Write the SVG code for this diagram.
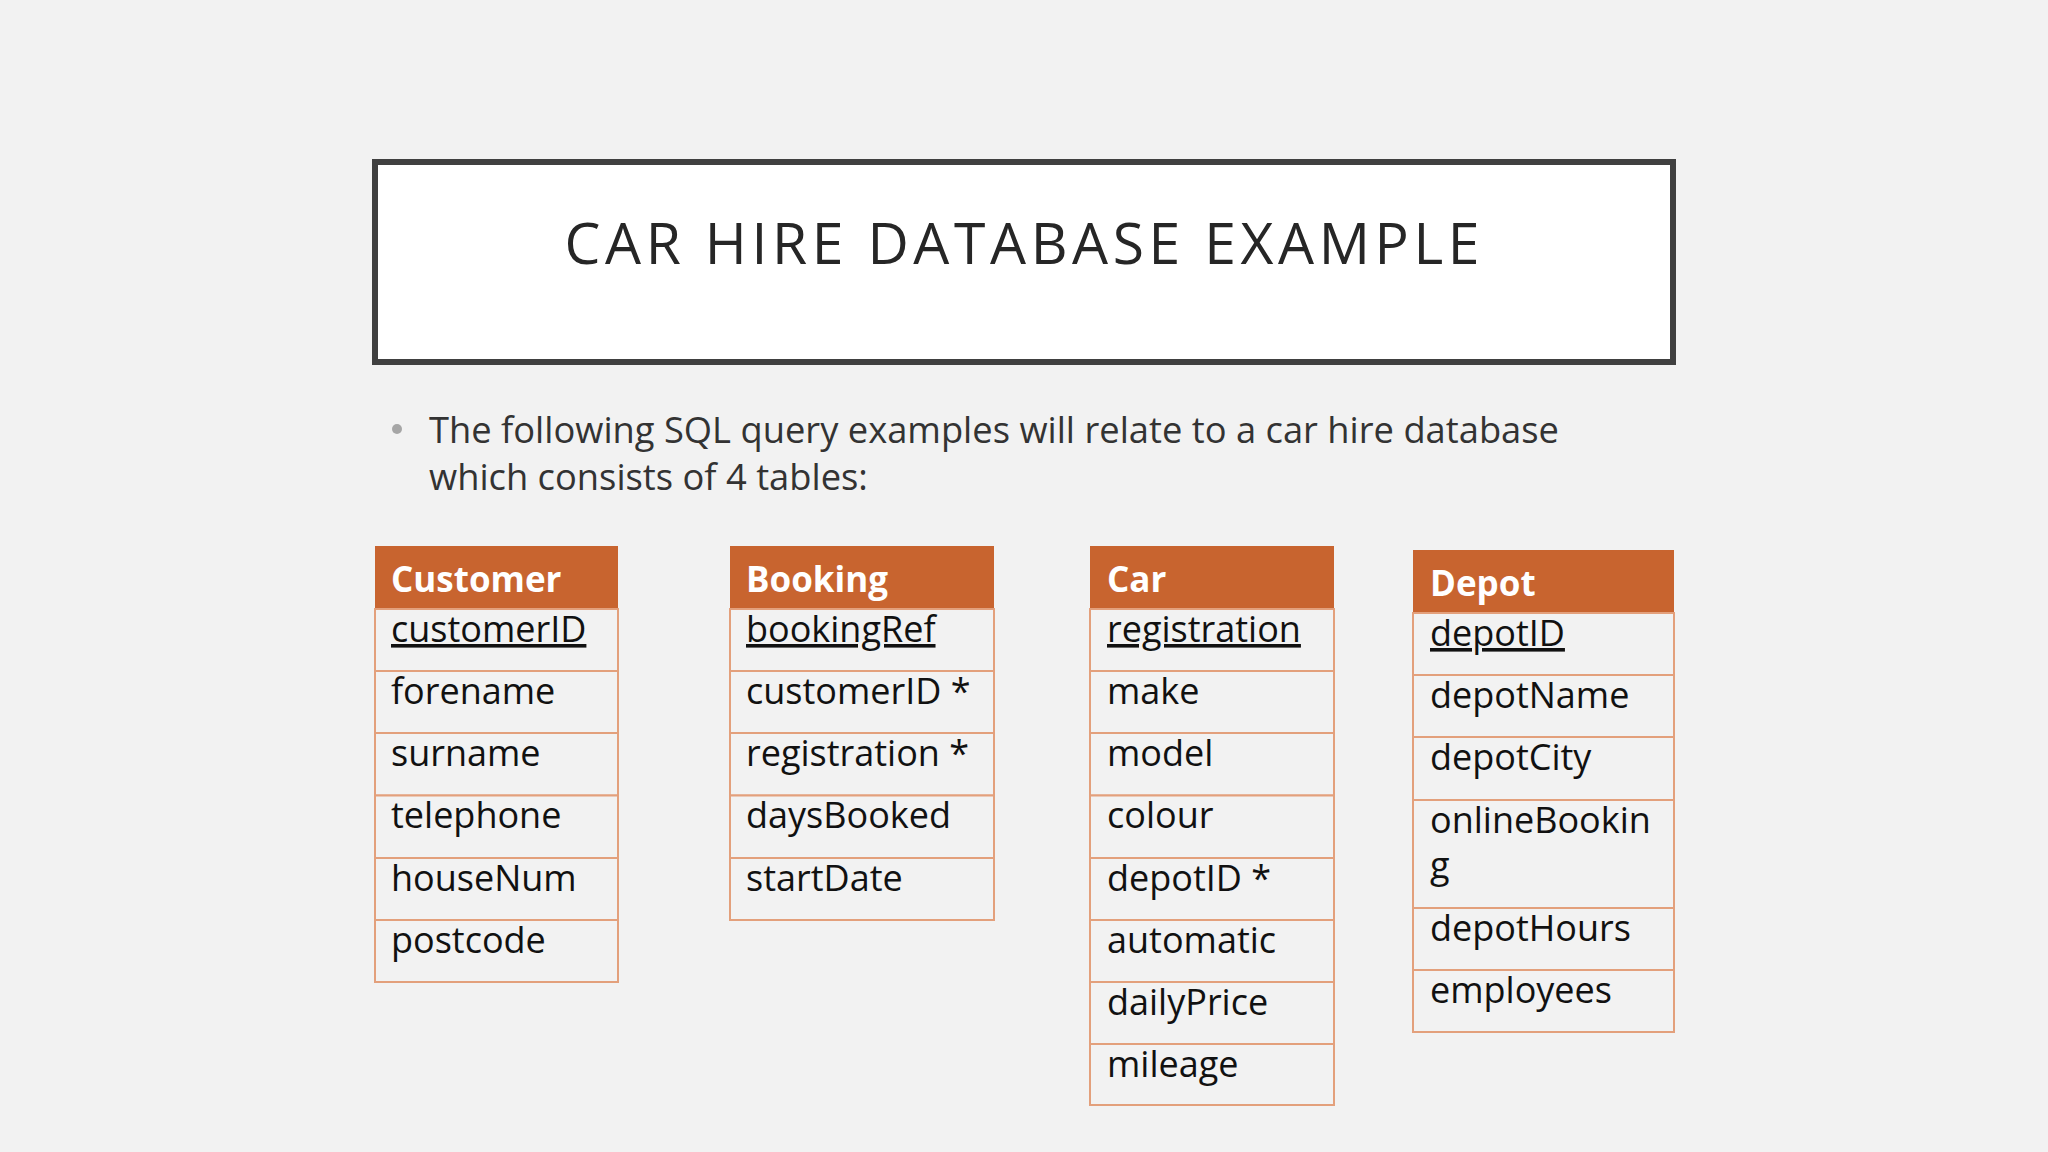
<svg xmlns="http://www.w3.org/2000/svg" width="2048" height="1152" viewBox="0 0 2048 1152">
  <style>
    .title { font-family: "Open Sans", "Noto Sans", "DejaVu Sans", sans-serif; font-size: 57px; font-weight: 400; fill: #262626; }
    .body { font-family: "Open Sans", "Noto Sans", "DejaVu Sans", sans-serif; font-size: 36.3px; fill: #333333; }
    .hdr { fill: #C8642F; }
    .row { fill: #F2F2F2; stroke: #E3A07C; stroke-width: 2; }
    .htext { font-family: "Open Sans", "Noto Sans", "DejaVu Sans", sans-serif; font-size: 35px; font-weight: bold; fill: #FFFFFF; }
    .rtext { font-family: "Open Sans", "Noto Sans", "DejaVu Sans", sans-serif; font-size: 36px; fill: #111111; }
    .pk { text-decoration: underline; }
  </style>
  <rect x="0" y="0" width="2048" height="1152" fill="#F2F2F2"/>

  <g id="title">
    <rect x="375" y="162" width="1298" height="200" fill="#FFFFFF" stroke="#404040" stroke-width="6"/>
    <text class="title" x="1022" y="264" text-anchor="middle" textLength="915" lengthAdjust="spacing">CAR HIRE DATABASE EXAMPLE</text>
  </g>

  <g id="bullet">
    <circle cx="397" cy="429" r="5" fill="#A6A6A6"/>
    <text class="body" x="429" y="443">The following SQL query examples will relate to a car hire database</text>
    <text class="body" x="429" y="490">which consists of 4 tables:</text>
  </g>

  <g id="customer">
    <rect class="hdr" x="375" y="546" width="243" height="63"/>
    <text class="htext" x="391" y="592">Customer</text>
    <rect class="row" x="375" y="609" width="243" height="62"/>
    <rect class="row" x="375" y="671" width="243" height="62"/>
    <rect class="row" x="375" y="733" width="243" height="62.5"/>
    <rect class="row" x="375" y="795.5" width="243" height="62.5"/>
    <rect class="row" x="375" y="858" width="243" height="62"/>
    <rect class="row" x="375" y="920" width="243" height="62"/>
    <text class="rtext pk" x="391" y="642">customerID</text>
    <text class="rtext" x="391" y="704">forename</text>
    <text class="rtext" x="391" y="766">surname</text>
    <text class="rtext" x="391" y="828">telephone</text>
    <text class="rtext" x="391" y="891">houseNum</text>
    <text class="rtext" x="391" y="953">postcode</text>
  </g>

  <g id="booking">
    <rect class="hdr" x="730" y="546" width="264" height="63"/>
    <text class="htext" x="746" y="592">Booking</text>
    <rect class="row" x="730" y="609" width="264" height="62"/>
    <rect class="row" x="730" y="671" width="264" height="62"/>
    <rect class="row" x="730" y="733" width="264" height="62.5"/>
    <rect class="row" x="730" y="795.5" width="264" height="62.5"/>
    <rect class="row" x="730" y="858" width="264" height="62"/>
    <text class="rtext pk" x="746" y="642">bookingRef</text>
    <text class="rtext" x="746" y="704">customerID *</text>
    <text class="rtext" x="746" y="766">registration *</text>
    <text class="rtext" x="746" y="828">daysBooked</text>
    <text class="rtext" x="746" y="891">startDate</text>
  </g>

  <g id="car">
    <rect class="hdr" x="1090" y="546" width="244" height="63"/>
    <text class="htext" x="1107" y="592">Car</text>
    <rect class="row" x="1090" y="609" width="244" height="62"/>
    <rect class="row" x="1090" y="671" width="244" height="62"/>
    <rect class="row" x="1090" y="733" width="244" height="62.5"/>
    <rect class="row" x="1090" y="795.5" width="244" height="62.5"/>
    <rect class="row" x="1090" y="858" width="244" height="62"/>
    <rect class="row" x="1090" y="920" width="244" height="62"/>
    <rect class="row" x="1090" y="982" width="244" height="62"/>
    <rect class="row" x="1090" y="1044" width="244" height="61"/>
    <text class="rtext pk" x="1107" y="642">registration</text>
    <text class="rtext" x="1107" y="704">make</text>
    <text class="rtext" x="1107" y="766">model</text>
    <text class="rtext" x="1107" y="828">colour</text>
    <text class="rtext" x="1107" y="891">depotID *</text>
    <text class="rtext" x="1107" y="953">automatic</text>
    <text class="rtext" x="1107" y="1015">dailyPrice</text>
    <text class="rtext" x="1107" y="1077">mileage</text>
  </g>

  <g id="depot">
    <rect class="hdr" x="1413" y="550" width="261" height="63"/>
    <text class="htext" x="1430" y="596">Depot</text>
    <rect class="row" x="1413" y="613" width="261" height="62"/>
    <rect class="row" x="1413" y="675" width="261" height="62"/>
    <rect class="row" x="1413" y="737" width="261" height="63"/>
    <rect class="row" x="1413" y="800" width="261" height="108"/>
    <rect class="row" x="1413" y="908" width="261" height="62"/>
    <rect class="row" x="1413" y="970" width="261" height="62"/>
    <text class="rtext pk" x="1430" y="646">depotID</text>
    <text class="rtext" x="1430" y="708">depotName</text>
    <text class="rtext" x="1430" y="770">depotCity</text>
    <text class="rtext" x="1430" y="833">onlineBookin</text>
    <text class="rtext" x="1430" y="878">g</text>
    <text class="rtext" x="1430" y="941">depotHours</text>
    <text class="rtext" x="1430" y="1003">employees</text>
  </g>

  <g id="connectors"></g>
</svg>
